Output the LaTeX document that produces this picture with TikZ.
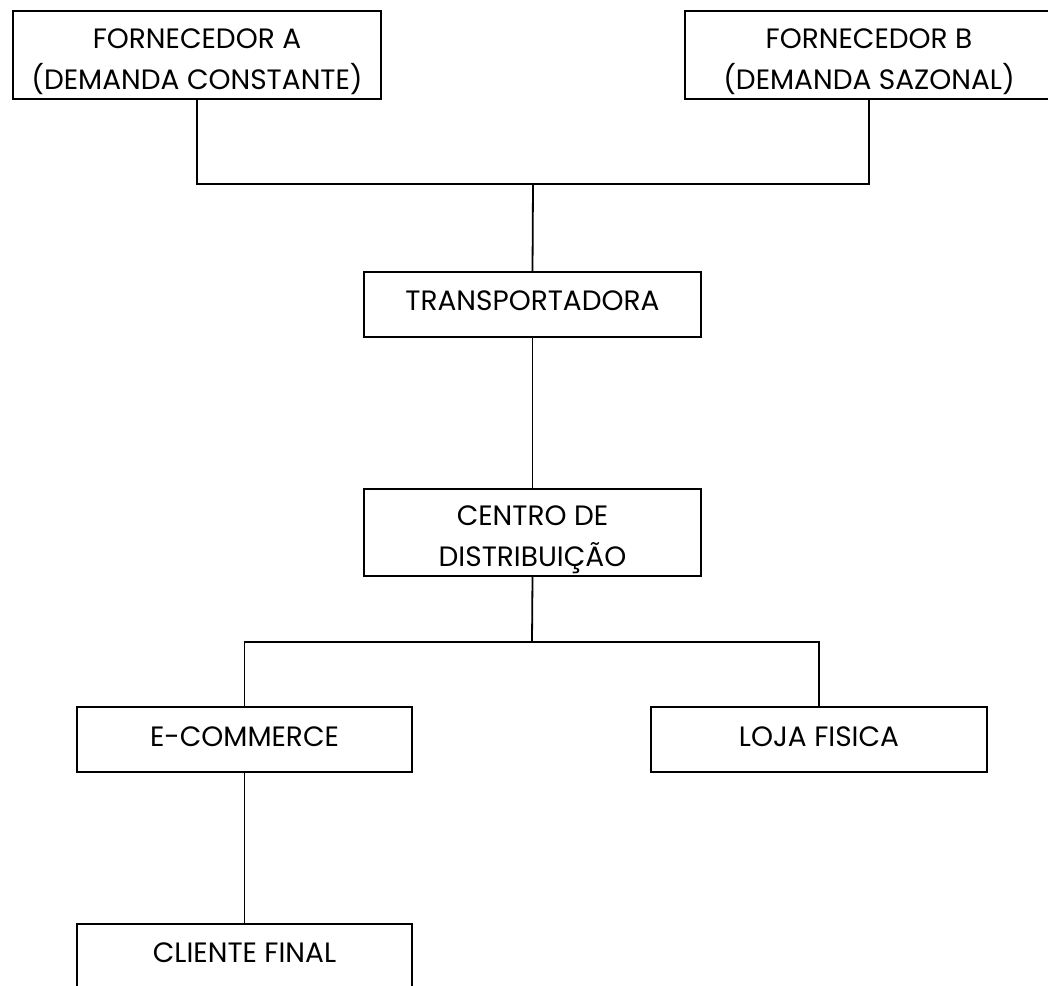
\documentclass[tikz,border=0pt]{standalone}
\usepackage{fontspec}
\setmainfont{Poppins}
\begin{document}
\begin{tikzpicture}[x=1pt,y=-1pt,
  lbl/.style={font=\fontsize{28}{41}\selectfont,align=center,inner sep=0pt},
  box/.style={draw=black,line width=1.8pt,fill=white,minimum width=#1,inner sep=0pt},
  box/.default={337pt},
  link/.style={draw=black,line width=1.8pt}]
\useasboundingbox (0,0) rectangle (1048,985);
\clip (0,0) rectangle (1048,985);
\node[box=368pt,minimum height=88pt] (fa) at (197,55) {};
\node[box=368pt,minimum height=88pt] (fb) at (869,55) {};
\node[box,minimum height=65pt] (tr) at (532.5,304.5) {};
\node[box,minimum height=87pt] (cd) at (532.5,532.5) {};
\node[box=335pt,minimum height=65pt] (ec) at (244.5,739.5) {};
\node[box=336pt,minimum height=65pt] (lj) at (819,739.5) {};
\node[box=335pt,minimum height=100pt] (cf) at (244.5,974) {};
\node[lbl] (fat) at (197,62) {FORNECEDOR A\\(DEMANDA CONSTANTE)};
\node[lbl] (fbt) at (869,62) {FORNECEDOR B\\(DEMANDA SAZONAL)};
\node[lbl] (trt) at (532.5,301) {TRANSPORTADORA};
\node[lbl] (cdt) at (532.5,540) {CENTRO DE\\DISTRIBUIÇÃO};
\node[lbl] (ect) at (244.5,736.5) {E-COMMERCE};
\node[lbl] (ljt) at (819,736.5) {LOJA FISICA};
\node[lbl] (cft) at (244.5,953) {CLIENTE FINAL};
\coordinate (j1) at (533,184);
\coordinate (j2) at (532,642);
\draw[link] (fa.south) |- (j1) -| (fb.south);
\draw[link] (j1) -- (tr.north);
\draw[link] (tr.south) -- (cd.north);
\draw[link] (cd.south) -- (j2);
\draw[link] (ec.north) |- (j2) -| (lj.north);
\draw[link] (ec.south) -- (cf.north);
\end{tikzpicture}
\end{document}
